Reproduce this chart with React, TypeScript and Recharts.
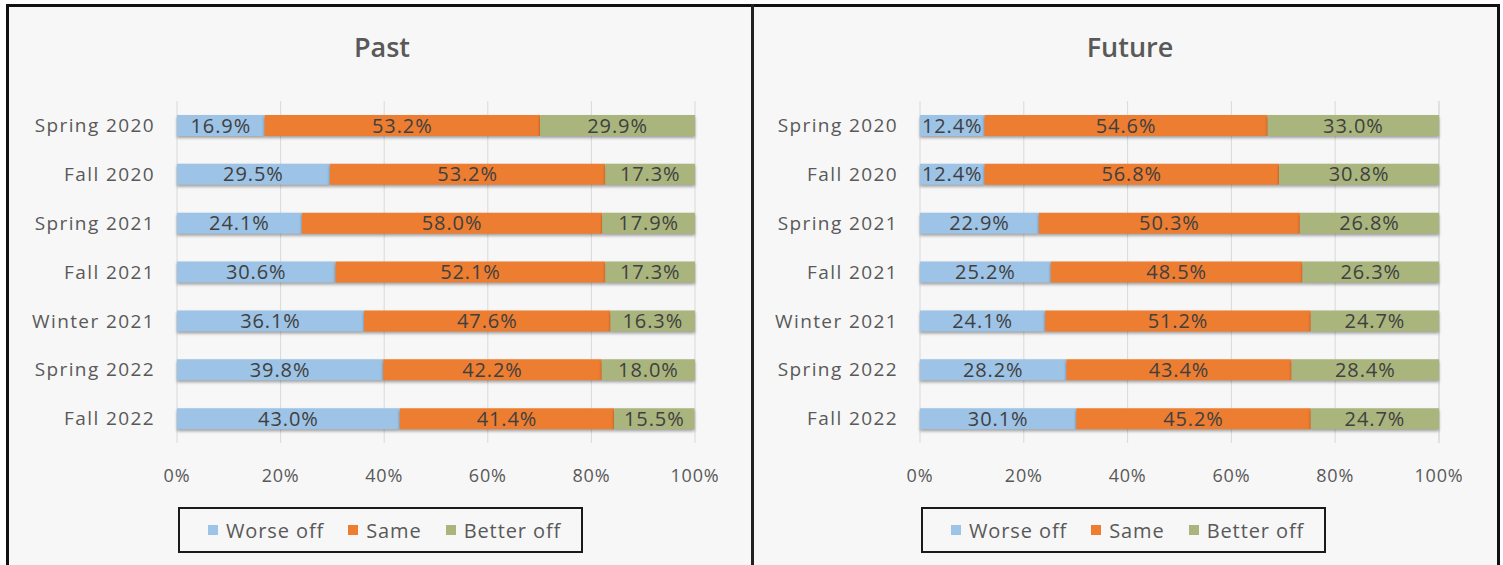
import React from 'react'
import { BarChart, Bar, XAxis, YAxis, CartesianGrid, LabelList } from 'recharts'

const periods = ['Spring 2020', 'Fall 2020', 'Spring 2021', 'Fall 2021', 'Winter 2021', 'Spring 2022', 'Fall 2022']

const pastWorse = [16.9, 29.5, 24.1, 30.6, 36.1, 39.8, 43.0]
const pastSame = [53.2, 53.2, 58.0, 52.1, 47.6, 42.2, 41.4]
const pastBetter = [29.9, 17.3, 17.9, 17.3, 16.3, 18.0, 15.5]

const futureWorse = [12.4, 12.4, 22.9, 25.2, 24.1, 28.2, 30.1]
const futureSame = [54.6, 56.8, 50.3, 48.5, 51.2, 43.4, 45.2]
const futureBetter = [33.0, 30.8, 26.8, 26.3, 24.7, 28.4, 24.7]

const xTicks = [0, 20, 40, 60, 80, 100]

const series = [
  { key: 'worse', name: 'Worse off', color: '#9DC3E6' },
  { key: 'same', name: 'Same', color: '#ED7D31' },
  { key: 'better', name: 'Better off', color: '#A9B57D' },
]

const FONT = '"Open Sans", "Noto Sans", sans-serif'
const TEXT = '#595959'

const buildRows = (worse: number[], same: number[], better: number[]) =>
  periods.map((p, i) => ({ period: p, worse: worse[i], same: same[i], better: better[i] }))

const pastData = buildRows(pastWorse, pastSame, pastBetter)
const futureData = buildRows(futureWorse, futureSame, futureBetter)

// Legend drawn as a bordered box like the Excel original
const BoxLegend = ({ left }: { left: number }) => (
  <div
    style={{
      position: 'absolute',
      left,
      top: 507,
      boxSizing: 'border-box',
      width: 405,
      height: 46,
      border: '2px solid #1a1a1a',
      display: 'flex',
      alignItems: 'center',
      paddingLeft: 28,
      fontFamily: FONT,
      fontSize: 20,
      letterSpacing: 0.9,
      color: TEXT,
    }}
  >
    {series.map((s, i) => (
      <div key={s.key} style={{ display: 'flex', alignItems: 'center', marginRight: i < 2 ? 24 : 0 }}>
        <span style={{ width: 10, height: 10, background: s.color, marginRight: 8, display: 'inline-block' }} />
        <span>{s.name}</span>
      </div>
    ))}
  </div>
)

interface PanelProps {
  data: any[]
  width: number
  axisWidth: number
  marginRight: number
}

const Panel: React.FC<PanelProps> = ({ data, width, axisWidth, marginRight }) => (
  <BarChart
    width={width}
    height={565}
    data={data}
    layout="vertical"
    margin={{ top: 101, right: marginRight, left: 0, bottom: 92 }}
    barSize={21}
  >
    <CartesianGrid horizontal={false} vertical={true} stroke="#d9d9d9" />
    <XAxis
      type="number"
      domain={[0, 100]}
      ticks={xTicks}
      tickFormatter={(v: number) => `${v}%`}
      axisLine={false}
      tickLine={false}
      tickSize={0}
      tickMargin={26}
      height={30}
      interval={0}
      tick={{ fill: TEXT, fontSize: 18, fontFamily: FONT, letterSpacing: 0.8 }}
    />
    <YAxis
      type="category"
      dataKey="period"
      width={axisWidth}
      axisLine={false}
      tickLine={false}
      tickSize={0}
      tickMargin={22}
      interval={0}
      tick={{ fill: TEXT, fontSize: 19, fontFamily: FONT, letterSpacing: 1.4 }}
    />
    {series.map(s => (
      <Bar key={s.key} dataKey={s.key} name={s.name} stackId="a" fill={s.color} isAnimationActive={false}>
        <LabelList
          dataKey={s.key}
          position="center"
          formatter={(v: any) => `${Number(v).toFixed(1)}%`}
          style={{ fill: '#404040', fontSize: 20, fontFamily: FONT, letterSpacing: 0.9 }}
        />
      </Bar>
    ))}
  </BarChart>
)

const titleStyle: React.CSSProperties = {
  position: 'absolute',
  top: 32,
  lineHeight: '30px',
  transform: 'translateX(-50%)',
  fontFamily: FONT,
  fontSize: 27,
  fontWeight: 600,
  color: TEXT,
  whiteSpace: 'nowrap',
}

const App = () => (
  <div style={{ position: 'relative', width: 1503, height: 565, overflow: 'hidden', background: '#fff' }}>
    <style>{`body{margin:0} .recharts-bar-rectangle{filter:drop-shadow(0px 2px 1.5px rgba(0,0,0,0.35))}`}</style>
    {/* frame */}
    <div
      style={{
        position: 'absolute',
        left: 6,
        top: 4,
        width: 1488,
        height: 600,
        borderTop: '3px solid #111',
        borderLeft: '3px solid #111',
        borderRight: '3px solid #111',
        background: '#f7f7f7',
      }}
    />
    <div style={{ position: 'absolute', left: 751, top: 4, width: 3, height: 600, background: '#222' }} />
    <div style={{ ...titleStyle, left: 382 }}>Past</div>
    <div style={{ ...titleStyle, left: 1130 }}>Future</div>
    <div style={{ position: 'absolute', left: 0, top: 0 }}>
      <Panel data={pastData} width={752} axisWidth={177} marginRight={57} />
    </div>
    <div style={{ position: 'absolute', left: 752, top: 0 }}>
      <Panel data={futureData} width={751} axisWidth={168} marginRight={64} />
    </div>
    <BoxLegend left={178} />
    <BoxLegend left={921} />
  </div>
)

export default App
